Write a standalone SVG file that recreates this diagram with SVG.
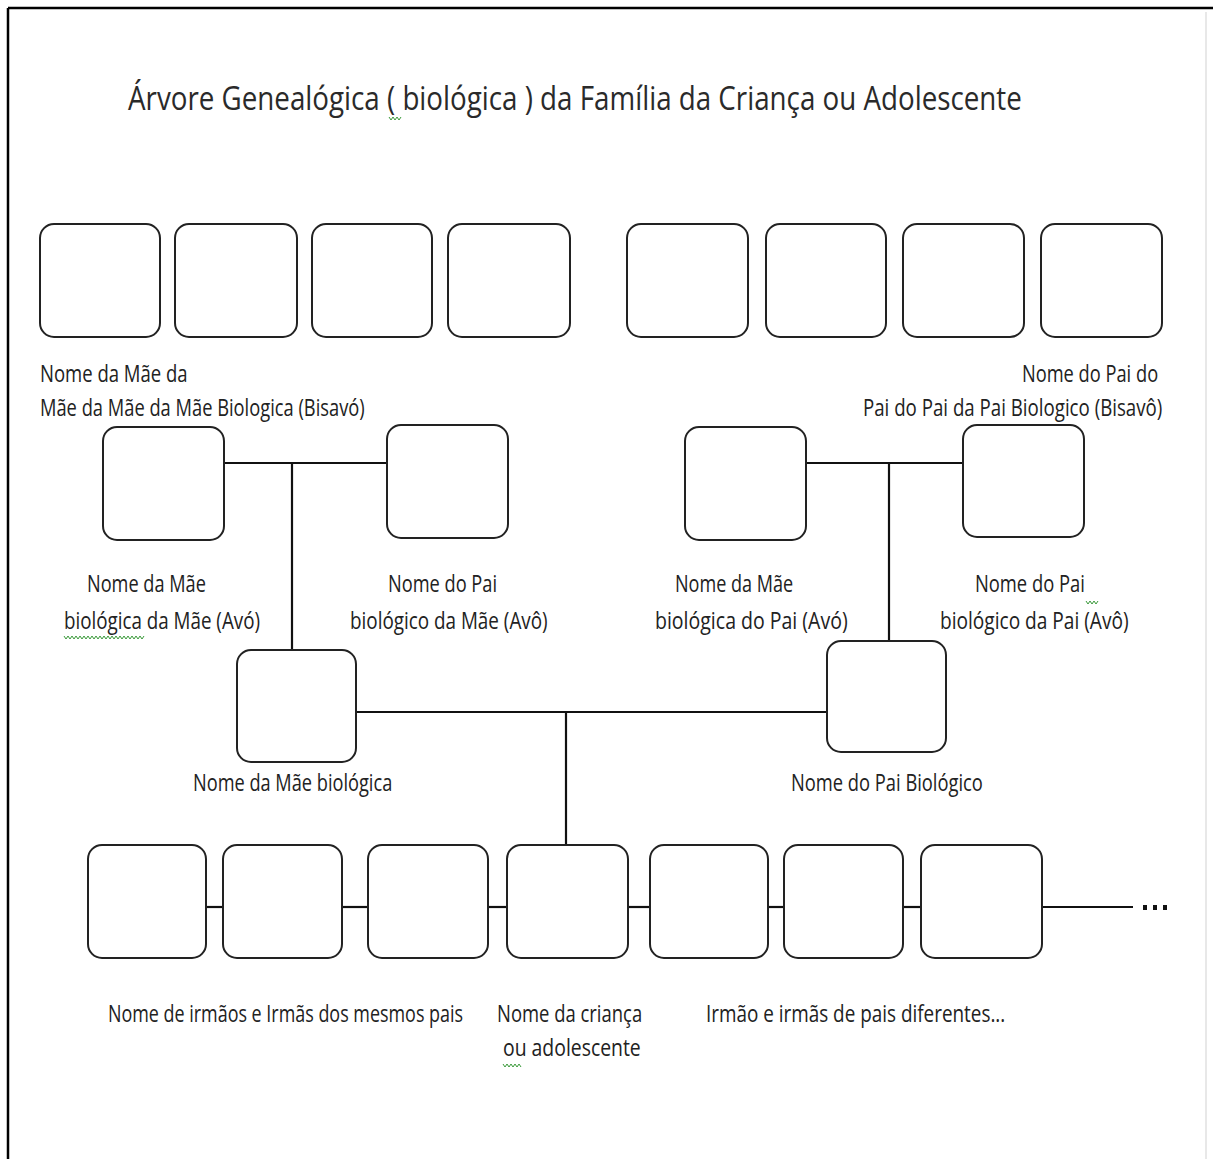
<svg xmlns="http://www.w3.org/2000/svg" width="1213" height="1159" viewBox="0 0 1213 1159">
<style>
.box{fill:#fff;stroke:#222;stroke-width:2}
.ln{stroke:#111;stroke-width:2.2;fill:none}
.t{font-family:"Open Sans","Liberation Sans",sans-serif;font-size:23px;fill:#222}
.title{font-family:"Open Sans","Liberation Sans",sans-serif;font-size:33px;fill:#2a2a2a}
.sq{fill:none;stroke:#3a9a3a;stroke-width:1}
</style>
<rect x="0" y="0" width="1213" height="1159" fill="#fff"/>
<g id="frame">
<line x1="8" y1="8" x2="1213" y2="8" stroke="#000" stroke-width="2.5"/>
<line x1="8" y1="8" x2="8" y2="1159" stroke="#000" stroke-width="2.5"/>
<line x1="1206" y1="12" x2="1206" y2="1159" stroke="#e8e8e8" stroke-width="2"/>
</g>
<g id="title">
<text class="title" transform="translate(128,110) scale(0.82,1)" x="0" y="0" textLength="1090" lengthAdjust="spacingAndGlyphs">Árvore Genealógica ( biológica ) da Família da Criança ou Adolescente</text>
<polyline class="sq" points="389,117 391,120 393,117 395,120 397,117 399,120 401,117"/>
</g>
<g id="connectors">
<line class="ln" x1="224" y1="463" x2="387" y2="463"/>
<line class="ln" x1="292" y1="463" x2="292" y2="650"/>
<line class="ln" x1="806" y1="463" x2="963" y2="463"/>
<line class="ln" x1="889" y1="463" x2="889" y2="641"/>
<line class="ln" x1="356" y1="712" x2="827" y2="712"/>
<line class="ln" x1="566" y1="712" x2="566" y2="845"/>
<line class="ln" x1="206" y1="907" x2="223" y2="907"/>
<line class="ln" x1="342" y1="907" x2="368" y2="907"/>
<line class="ln" x1="488" y1="907" x2="507" y2="907"/>
<line class="ln" x1="628" y1="907" x2="650" y2="907"/>
<line class="ln" x1="768" y1="907" x2="784" y2="907"/>
<line class="ln" x1="903" y1="907" x2="921" y2="907"/>
<line class="ln" x1="1042" y1="907" x2="1133" y2="907"/>
<rect x="1143" y="905" width="4" height="5" fill="#111"/>
<rect x="1153" y="905" width="4" height="5" fill="#111"/>
<rect x="1163" y="905" width="4" height="5" fill="#111"/>
</g>
<g id="bisavos-mae">
<rect class="box" x="40" y="224" width="120" height="113" rx="14"/>
<rect class="box" x="175" y="224" width="122" height="113" rx="14"/>
<rect class="box" x="312" y="224" width="120" height="113" rx="14"/>
<rect class="box" x="448" y="224" width="122" height="113" rx="14"/>
<text class="t" transform="translate(40,382) scale(0.82,1)" textLength="180" lengthAdjust="spacingAndGlyphs">Nome da Mãe da</text>
<text class="t" transform="translate(40,416) scale(0.82,1)" textLength="396" lengthAdjust="spacingAndGlyphs">Mãe da Mãe da Mãe Biologica (Bisavó)</text>
</g>
<g id="bisavos-pai">
<rect class="box" x="627" y="224" width="121" height="113" rx="14"/>
<rect class="box" x="766" y="224" width="120" height="113" rx="14"/>
<rect class="box" x="903" y="224" width="121" height="113" rx="14"/>
<rect class="box" x="1041" y="224" width="121" height="113" rx="14"/>
<text class="t" transform="translate(1022,382) scale(0.82,1)" textLength="166" lengthAdjust="spacingAndGlyphs">Nome do Pai do</text>
<text class="t" transform="translate(863,416) scale(0.82,1)" textLength="365" lengthAdjust="spacingAndGlyphs">Pai do Pai da Pai Biologico (Bisavô)</text>
</g>
<g id="avo-mae-mae">
<rect class="box" x="103" y="427" width="121" height="113" rx="14"/>
<text class="t" transform="translate(87,592) scale(0.82,1)" textLength="145" lengthAdjust="spacingAndGlyphs">Nome da Mãe</text>
<text class="t" transform="translate(64,629) scale(0.82,1)" textLength="239" lengthAdjust="spacingAndGlyphs">biológica da Mãe (Avó)</text>
<polyline class="sq" points="64,636 66,639 68,636 70,639 72,636 74,639 76,636 78,639 80,636 82,639 84,636 86,639 88,636 90,639 92,636 94,639 96,636 98,639 100,636 102,639 104,636 106,639 108,636 110,639 112,636 114,639 116,636 118,639 120,636 122,639 124,636 126,639 128,636 130,639 132,636 134,639 136,636 138,639 140,636 142,639 144,636"/>
</g>
<g id="avo-pai-mae">
<rect class="box" x="387" y="425" width="121" height="113" rx="14"/>
<text class="t" transform="translate(388,592) scale(0.82,1)" textLength="133" lengthAdjust="spacingAndGlyphs">Nome do Pai</text>
<text class="t" transform="translate(350,629) scale(0.82,1)" textLength="241" lengthAdjust="spacingAndGlyphs">biológico da Mãe (Avô)</text>
</g>
<g id="avo-mae-pai">
<rect class="box" x="685" y="427" width="121" height="113" rx="14"/>
<text class="t" transform="translate(675,592) scale(0.82,1)" textLength="144" lengthAdjust="spacingAndGlyphs">Nome da Mãe</text>
<text class="t" transform="translate(655,629) scale(0.82,1)" textLength="235" lengthAdjust="spacingAndGlyphs">biológica do  Pai (Avó)</text>
</g>
<g id="avo-pai-pai">
<rect class="box" x="963" y="425" width="121" height="112" rx="14"/>
<text class="t" transform="translate(975,592) scale(0.82,1)" textLength="134" lengthAdjust="spacingAndGlyphs">Nome do Pai</text>
<polyline class="sq" points="1086,601 1088,604 1090,601 1092,604 1094,601 1096,604 1098,601"/>
<text class="t" transform="translate(940,629) scale(0.82,1)" textLength="230" lengthAdjust="spacingAndGlyphs">biológico da Pai (Avô)</text>
</g>
<g id="mae">
<rect class="box" x="237" y="650" width="119" height="112" rx="14"/>
<text class="t" transform="translate(193,791) scale(0.82,1)" textLength="243" lengthAdjust="spacingAndGlyphs">Nome da Mãe biológica</text>
</g>
<g id="pai">
<rect class="box" x="827" y="641" width="119" height="111" rx="14"/>
<text class="t" transform="translate(791,791) scale(0.82,1)" textLength="234" lengthAdjust="spacingAndGlyphs">Nome do Pai Biológico</text>
</g>
<g id="irmaos-mesmos-pais">
<rect class="box" x="88" y="845" width="118" height="113" rx="14"/>
<rect class="box" x="223" y="845" width="119" height="113" rx="14"/>
<rect class="box" x="368" y="845" width="120" height="113" rx="14"/>
<text class="t" transform="translate(108,1022) scale(0.82,1)" textLength="433" lengthAdjust="spacingAndGlyphs">Nome de irmãos e Irmãs dos mesmos pais</text>
</g>
<g id="crianca">
<rect class="box" x="507" y="845" width="121" height="113" rx="14"/>
<text class="t" transform="translate(497,1022) scale(0.82,1)" textLength="177" lengthAdjust="spacingAndGlyphs">Nome da criança</text>
<text class="t" transform="translate(503,1056) scale(0.82,1)" textLength="168" lengthAdjust="spacingAndGlyphs">ou adolescente</text>
<polyline class="sq" points="503,1064 505,1067 507,1064 509,1067 511,1064 513,1067 515,1064 517,1067 519,1064 521,1067"/>
</g>
<g id="irmaos-pais-diferentes">
<rect class="box" x="650" y="845" width="118" height="113" rx="14"/>
<rect class="box" x="784" y="845" width="119" height="113" rx="14"/>
<rect class="box" x="921" y="845" width="121" height="113" rx="14"/>
<text class="t" transform="translate(706,1022) scale(0.82,1)" textLength="365" lengthAdjust="spacingAndGlyphs">Irmão e irmãs de pais diferentes...</text>
</g>
</svg>
